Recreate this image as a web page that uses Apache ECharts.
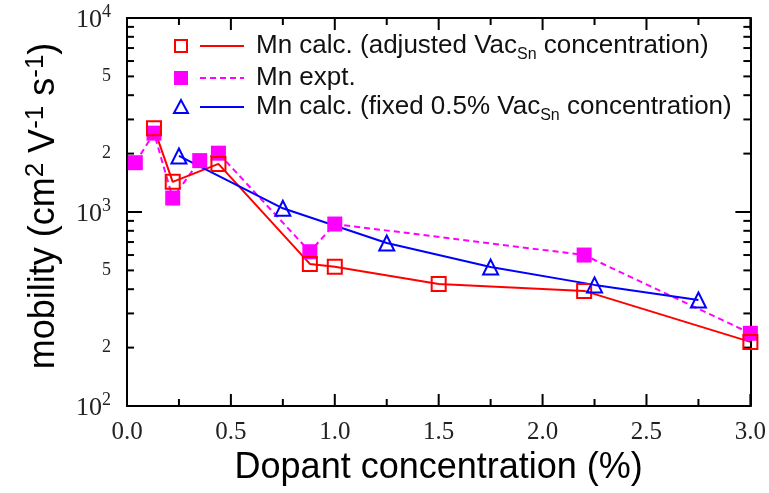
<!DOCTYPE html>
<html>
<head>
<meta charset="utf-8">
<script src="https://cdn.jsdelivr.net/npm/echarts@6/dist/echarts.min.js"></script>
<style>
  html, body { margin: 0; padding: 0; background: #fff; }
  #chart { width: 769px; height: 493px; }
</style>
</head>
<body>
<div id="chart"></div>
<script>
// data
const redX = [0.13, 0.22, 0.44, 0.88, 1.0, 1.5, 2.2, 3.0]
const redY = [2700, 1430, 1770, 540, 522, 426, 392, 214]
const magX = [0.04, 0.13, 0.22, 0.35, 0.44, 0.88, 1.0, 2.2, 3.0]
const magY = [1795, 2550, 1180, 1840, 2010, 624, 867, 600, 237]
const blueX = [0.25, 0.75, 1.25, 1.75, 2.25, 2.75]
const blueY = [1945, 1045, 692, 520, 421, 352]

// tick values
const xMajor = [0, 0.5, 1, 1.5, 2, 2.5, 3]
const xMinor = [0.25, 0.75, 1.25, 1.75, 2.25, 2.75]
const yMajor = [100, 1000, 10000]
const yMinor = [200, 300, 400, 500, 600, 700, 800, 900, 2000, 3000, 4000, 5000, 6000, 7000, 8000, 9000]
const yLabels = [100, 200, 500, 1000, 2000, 5000, 10000]

const legendNames = [
    'Mn calc. (adjusted Vac{sub|Sn} concentration)',
    'Mn expt.',
    'Mn calc. (fixed 0.5% Vac{sub|Sn} concentration)'
]

const RED = '#ff0000', MAG = '#ff00ff', BLUE = '#0000ff'
const serif = 'Liberation Serif'
const sans = 'Liberation Sans'

const zip = (xs, ys) => xs.map((x, i) => [x, ys[i]])

const chart = echarts.init(document.getElementById('chart'))

const logAxis = (pos, withLabel) => ({
    type: 'log',
    logBase: 10,
    min: 100,
    max: 10000,
    position: pos,
    axisLine: { show: true, onZero: false, lineStyle: { color: '#000', width: 2 } },
    axisTick: { show: false },
    axisLabel: withLabel ? {
        show: true,
        customValues: yLabels,
        margin: 16,
        formatter: v => {
            const p = Math.round(Math.log10(v))
            if (Math.abs(Math.pow(10, p) - v) < 1e-6) return '{big|10}{sup|' + p + '}'
            return '{small|' + Math.round(v / Math.pow(10, Math.floor(Math.log10(v)))) + '}'
        },
        rich: {
            big: { fontSize: 26, fontFamily: serif, color: '#222', lineHeight: 30, verticalAlign: 'bottom' },
            sup: { fontSize: 18, fontFamily: serif, color: '#222', verticalAlign: 'top', lineHeight: 30 },
            small: { fontSize: 18, fontFamily: serif, color: '#222' }
        }
    } : { show: false },
    splitLine: { show: false }
})

const valAxis = (pos, withLabel) => ({
    type: 'value',
    min: 0,
    max: 3,
    interval: 0.5,
    position: pos,
    axisLine: { show: true, onZero: false, lineStyle: { color: '#000', width: 2 } },
    axisTick: { show: false },
    axisLabel: withLabel ? {
        show: true, margin: 14, fontSize: 25, fontFamily: serif, color: '#222',
        formatter: v => v.toFixed(1)
    } : { show: false },
    splitLine: { show: false }
})

// legend drawn by hand: symbol, short line, label
const legendGraphic = []
const rowsY = [46, 78, 107]
rowsY.forEach((ry, i) => {
    if (i === 0) legendGraphic.push({ type: 'rect', shape: { x: 175, y: ry - 6, width: 12, height: 12 }, style: { fill: 'none', stroke: RED, lineWidth: 2 } })
    if (i === 1) legendGraphic.push({ type: 'rect', shape: { x: 174, y: ry - 7, width: 14, height: 14 }, style: { fill: MAG } })
    if (i === 2) legendGraphic.push({ type: 'polygon', shape: { points: [[181, ry - 7], [174, ry + 6], [188, ry + 6]] }, style: { fill: 'none', stroke: BLUE, lineWidth: 2 } })
    const lineStyle = { stroke: [RED, MAG, BLUE][i], lineWidth: 2 }
    if (i === 1) lineStyle.lineDash = [6, 4]
    legendGraphic.push({ type: 'line', shape: { x1: 200, y1: ry, x2: 244, y2: ry }, style: lineStyle })
    legendGraphic.push({
        type: 'text',
        x: 256,
        y: ry,
        style: {
            text: legendNames[i],
            fontFamily: sans,
            fontSize: 26,
            fill: '#111',
            verticalAlign: 'middle',
            rich: {
                sub: { fontSize: 16, fontFamily: sans, fill: '#111', verticalAlign: 'bottom', lineHeight: 34 }
            }
        }
    })
})

const option = {
    animation: false,
    backgroundColor: '#fff',
    grid: { left: 127, right: 18, top: 18, bottom: 87 },
    xAxis: [
        Object.assign(valAxis('bottom', true), {
            name: 'Dopant concentration (%)',
            nameLocation: 'middle',
            nameGap: 44,
            nameTextStyle: { fontFamily: sans, fontSize: 36, color: '#000' }
        }),
        valAxis('top', false)
    ],
    yAxis: [
        Object.assign(logAxis('left', true), {
            name: 'mobility (cm{sup|2} V{sup|-1} s{sup|-1})',
            nameLocation: 'middle',
            nameGap: 62,
            nameRotate: 90,
            nameTextStyle: {
                fontFamily: sans, fontSize: 36, color: '#000', lineHeight: 42,
                padding: [0, 0, 0, 12],
                rich: {
                    sup: { fontFamily: sans, fontSize: 26, color: '#000', verticalAlign: 'top', lineHeight: 42 }
                }
            }
        }),
        logAxis('right', false)
    ],
    series: [
        {
            name: 'Mn expt.',
            type: 'line',
            data: zip(magX, magY),
            symbol: 'rect',
            symbolSize: 15,
            itemStyle: { color: MAG },
            lineStyle: { color: MAG, width: 2, type: [6, 4] }
        },
        {
            name: 'Mn calc. (adjusted)',
            type: 'line',
            data: zip(redX, redY),
            symbol: 'rect',
            symbolSize: 14,
            itemStyle: { color: 'rgba(0,0,0,0)', borderColor: RED, borderWidth: 2 },
            lineStyle: { color: RED, width: 2 }
        },
        {
            name: 'Mn calc. (fixed)',
            type: 'line',
            data: zip(blueX, blueY),
            symbol: 'triangle',
            symbolSize: 15,
            itemStyle: { color: 'rgba(0,0,0,0)', borderColor: BLUE, borderWidth: 2 },
            lineStyle: { color: BLUE, width: 2 }
        }
    ]
}

chart.setOption(option)

// inward tick marks on all four sides, placed through the axes' own scales
const px = v => chart.convertToPixel({ xAxisIndex: 0 }, v)
const py = v => chart.convertToPixel({ yAxisIndex: 0 }, v)
const xL = px(0), xR = px(3), yB = py(100), yT = py(10000)
const tickStyle = { stroke: '#000', lineWidth: 2 }
const ticks = []
const xTick = (v, len) => {
    const x = px(v)
    ticks.push({ type: 'line', shape: { x1: x, y1: yB, x2: x, y2: yB - len }, style: tickStyle })
    ticks.push({ type: 'line', shape: { x1: x, y1: yT, x2: x, y2: yT + len }, style: tickStyle })
}
const yTick = (v, len) => {
    const y = py(v)
    ticks.push({ type: 'line', shape: { x1: xL, y1: y, x2: xL + len, y2: y }, style: tickStyle })
    ticks.push({ type: 'line', shape: { x1: xR, y1: y, x2: xR - len, y2: y }, style: tickStyle })
}
xMajor.forEach(v => xTick(v, 12))
xMinor.forEach(v => xTick(v, 7))
yMajor.forEach(v => yTick(v, 15))
yMinor.forEach(v => yTick(v, 7))

chart.setOption({ graphic: legendGraphic.concat(ticks) })
</script>
</body>
</html>
